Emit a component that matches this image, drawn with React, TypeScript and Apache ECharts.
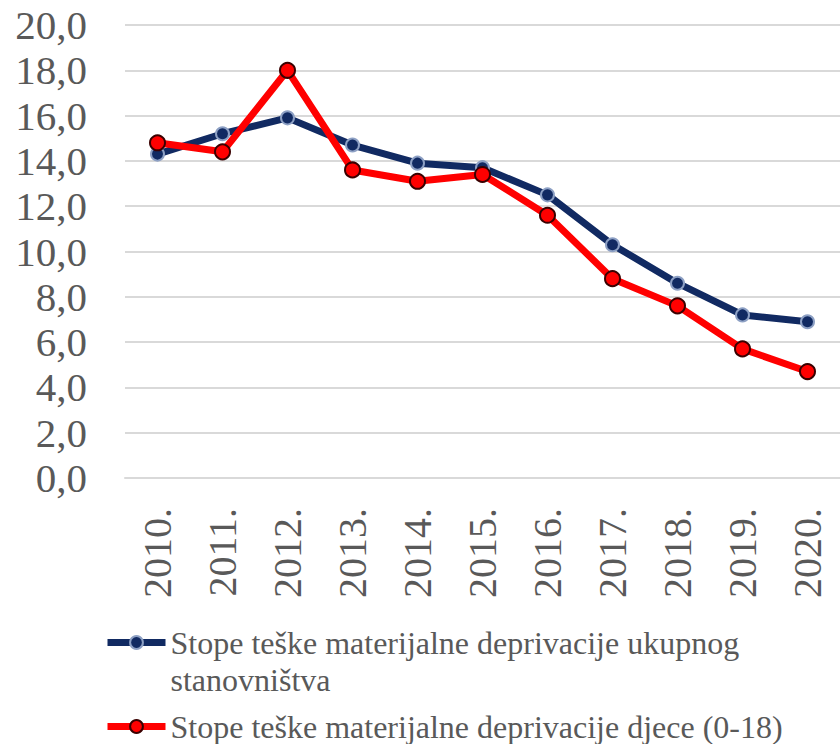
import React, { useEffect, useRef } from "react";
import * as echarts from "echarts";

const categories = ["2010.", "2011.", "2012.", "2013.", "2014.", "2015.", "2016.", "2017.", "2018.", "2019.", "2020."];
const totalRates = [14.3, 15.2, 15.9, 14.7, 13.9, 13.7, 12.5, 10.3, 8.6, 7.2, 6.9];
const childRates = [14.8, 14.4, 18.0, 13.6, 13.1, 13.4, 11.6, 8.8, 7.6, 5.7, 4.7];
const seriesNames = [
  "Stope teške materijalne deprivacije ukupnog\nstanovništva",
  "Stope teške materijalne deprivacije djece (0-18)",
];

const FONT = "Liberation Serif";
const TEXT = "#595959";

export default function App() {
  const ref = useRef<HTMLDivElement>(null);
  useEffect(() => {
    document.body.style.margin = "0";
    if (!ref.current) return;
    const chart = echarts.init(ref.current, undefined, { renderer: "svg" });
    const legendText = {
      color: TEXT,
      fontFamily: FONT,
      fontSize: 32,
      lineHeight: 37,
    };
    chart.setOption({
      animation: false,
      backgroundColor: "#ffffff",
      textStyle: { fontFamily: FONT },
      grid: { left: 125, right: -11, top: 25, height: 453, containLabel: false },
      xAxis: {
        type: "category",
        data: categories,
        boundaryGap: true,
        axisLine: { show: true, lineStyle: { color: "#d9d9d9", width: 2 } },
        axisTick: { show: false },
        axisLabel: {
          rotate: 90,
          margin: 30,
          color: TEXT,
          fontFamily: FONT,
          fontSize: 40,
        },
      },
      yAxis: {
        type: "value",
        min: 0,
        max: 20,
        interval: 2,
        axisLine: { show: false },
        axisTick: { show: false },
        splitLine: { lineStyle: { color: "#d9d9d9", width: 2 } },
        axisLabel: {
          margin: 38,
          color: TEXT,
          fontFamily: FONT,
          fontSize: 41,
          formatter: (v: number) => v.toFixed(1).replace(".", ","),
        },
      },
      legend: [
        {
          data: [seriesNames[0]],
          orient: "vertical",
          left: 104,
          top: 587,
          itemWidth: 58,
          itemHeight: 16,
          itemGap: 0,
          padding: 0,
          formatter: (name: string) => "\n" + name,
          lineStyle: { width: 7 },
          textStyle: legendText,
        },
        {
          data: [seriesNames[1]],
          orient: "vertical",
          left: 104,
          top: 708,
          itemWidth: 58,
          itemHeight: 16,
          itemGap: 0,
          padding: 0,
          lineStyle: { width: 7 },
          textStyle: legendText,
        },
      ],
      series: [
        {
          name: seriesNames[0],
          type: "line",
          data: totalRates,
          symbol: "circle",
          symbolSize: 13,
          lineStyle: { color: "#112a62", width: 7 },
          itemStyle: { color: "#112a62", borderColor: "#8da0c4", borderWidth: 2 },
        },
        {
          name: seriesNames[1],
          type: "line",
          data: childRates,
          symbol: "circle",
          symbolSize: 15,
          lineStyle: { color: "#ff0000", width: 7 },
          itemStyle: { color: "#ff0000", borderColor: "#3a0000", borderWidth: 2 },
        },
      ],
    });
    return () => chart.dispose();
  }, []);
  return <div ref={ref} style={{ width: 840, height: 744 }} />;
}
